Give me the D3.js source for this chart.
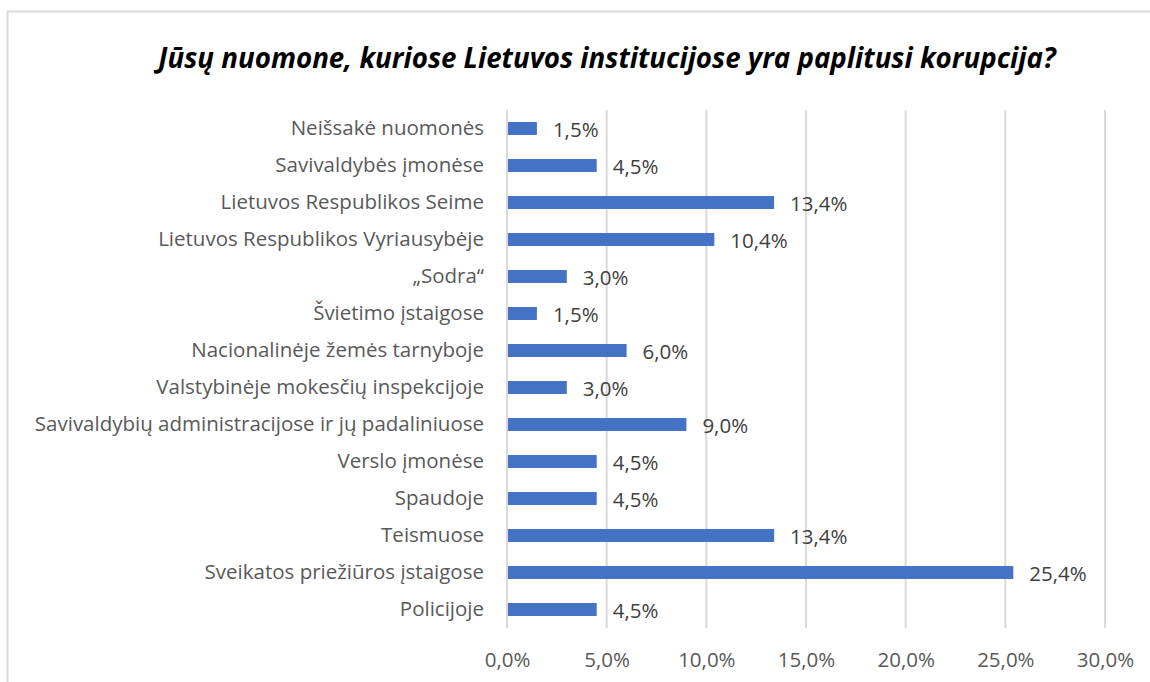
<html>
<head>
  <meta charset="utf-8">
  <script src="https://d3js.org/d3.v7.min.js"></script>
  <style>
    body { margin: 0; background: #fff; }
    text { font-family: 'Open Sans', sans-serif; }
  </style>
</head>
<body>
  <div id="chart"></div>
  <script type="text/javascript">

    // Data
    var categories = [
      'Neišsakė nuomonės',
      'Savivaldybės įmonėse',
      'Lietuvos Respublikos Seime',
      'Lietuvos Respublikos Vyriausybėje',
      '„Sodra“',
      'Švietimo įstaigose',
      'Nacionalinėje žemės tarnyboje',
      'Valstybinėje mokesčių inspekcijoje',
      'Savivaldybių administracijose ir jų padaliniuose',
      'Verslo įmonėse',
      'Spaudoje',
      'Teismuose',
      'Sveikatos priežiūros įstaigose',
      'Policijoje'
    ];
    var values = [1.5, 4.5, 13.4, 10.4, 3.0, 1.5, 6.0, 3.0, 9.0, 4.5, 4.5, 13.4, 25.4, 4.5];
    var ticks = [0, 5, 10, 15, 20, 25, 30];
    var title = 'Jūsų nuomone, kuriose Lietuvos institucijose yra paplitusi korupcija?';

    var W = 1150, H = 682;
    var plot = {left: 507, right: 1105, top: 110, bottom: 628};
    var labelSize = '20.5px';

    var fmt = function(v) { return d3.format('.1f')(v).replace('.', ',') + '%'; };

    var x = d3.scaleLinear().domain([0, 30]).range([plot.left, plot.right]);
    var y = d3.scaleBand().domain(categories).range([plot.top, plot.bottom]).paddingInner(0.65).paddingOuter(0.325);

    var svg = d3.select('#chart').append('svg')
                .attr('width', W)
                .attr('height', H);

    // outer border
    svg.append('rect')
         .attr('x', 7.5).attr('y', 11.5)
         .attr('width', W).attr('height', H)
         .style('fill', 'none')
         .style('stroke', '#D9D9D9')
         .style('stroke-width', 2);

    // title
    svg.append('text')
         .text(title)
         .attr('x', 607)
         .attr('y', 68)
         .attr('text-anchor', 'middle')
         .style('font-size', '27.7px')
         .style('font-weight', 'bold')
         .style('font-style', 'italic')
         .style('fill', '#000');

    // grid lines
    svg.append('g')
         .selectAll('line')
         .data(ticks)
         .enter().append('line')
           .attr('x1', function(d) { return x(d); })
           .attr('x2', function(d) { return x(d); })
           .attr('y1', plot.top)
           .attr('y2', plot.bottom)
           .style('stroke', '#D9D9D9')
           .style('stroke-width', 2);

    // x axis labels
    var x_axis = d3.axisBottom(x).tickValues(ticks).tickFormat(fmt).tickSize(0).tickPadding(24);
    var gx = svg.append('g')
                  .attr('transform', 'translate(0,' + plot.bottom + ')')
                  .call(x_axis);
    gx.select('.domain').remove();
    gx.selectAll('text')
        .style('font-family', "'Open Sans', sans-serif")
        .style('font-size', labelSize)
        .style('fill', '#595959');

    // category labels
    var y_axis = d3.axisLeft(y).tickSize(0).tickPadding(23);
    var gy = svg.append('g')
                  .attr('transform', 'translate(' + plot.left + ',0)')
                  .call(y_axis);
    gy.select('.domain').remove();
    gy.selectAll('text')
        .style('font-family', "'Open Sans', sans-serif")
        .style('font-size', labelSize)
        .style('fill', '#595959');

    // bars
    svg.append('g')
         .selectAll('rect')
         .data(values)
         .enter().append('rect')
           .attr('x', x(0) + 1)
           .attr('y', function(d, i) { return y(categories[i]); })
           .attr('width', function(d) { return x(d) - x(0) - 1; })
           .attr('height', y.bandwidth())
           .style('fill', '#4472C4');

    // value labels
    svg.append('g')
         .selectAll('text')
         .data(values)
         .enter().append('text')
           .text(fmt)
           .attr('x', function(d) { return x(d) + 16; })
           .attr('y', function(d, i) { return y(categories[i]) + y.bandwidth() / 2 + 1; })
           .attr('dy', '0.35em')
           .style('font-size', labelSize)
           .style('fill', '#404040');

  </script>
</body>
</html>
